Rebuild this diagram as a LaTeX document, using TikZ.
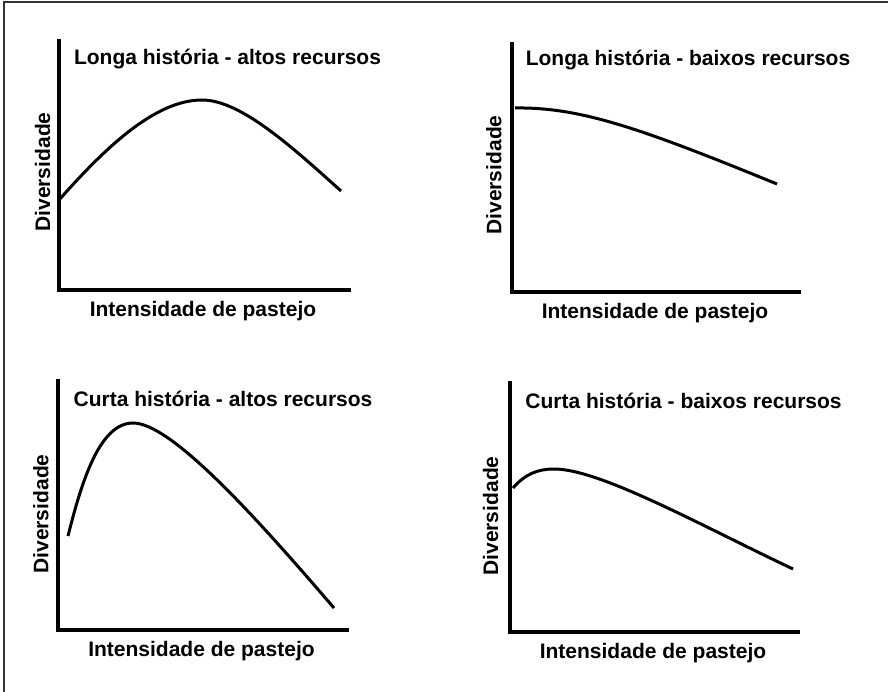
\documentclass[tikz,border=0pt]{standalone}
\usepackage{fontspec}
\setmainfont{Liberation Sans}
\tikzset{
  axis/.style={line width=3.4pt, line join=miter},
  curve/.style={line width=3pt, line cap=butt},
  lbl/.style={font=\fontsize{21}{25}\selectfont\bfseries, inner sep=0pt, anchor=base},
}

\begin{document}
\begin{tikzpicture}[x=1pt,y=-1pt]
\useasboundingbox (0,0) rectangle (888,692);
\draw[line width=1.8pt,black!80] (3.7,692) -- (3.7,2) -- (888,2);
% eixos
\foreach \n/\ox/\oy/\yt/\xe in {1/59/290/39/351, 2/512/292/42/801, 3/58/630/379/349, 4/510/632/381/800} {
  \coordinate (o\n) at (\ox,\oy);
  \coordinate (ytop\n) at (\ox,\yt);
  \coordinate (xend\n) at (\xe,\oy);
  \draw[axis] (ytop\n) -- (o\n) -- (xend\n);
}
% titulos
\foreach \n/\tx/\ty/\txt in {1/227.5/65/Longa história - altos recursos,
                             2/688/65.5/Longa história - baixos recursos,
                             3/223/406/Curta história - altos recursos,
                             4/683.5/408.7/Curta história - baixos recursos} {
  \node[lbl] (title\n) at (\tx,\ty) {\txt};
}
% eixo x
\foreach \n/\tx/\ty in {1/203/316.7, 2/655/318.3, 3/201.5/656.7, 4/653/658.7} {
  \node[lbl] (xlab\n) at (\tx,\ty) {Intensidade de pastejo};
}
% eixo y
\foreach \n/\tx/\ty in {1/50/172, 2/501.3/175, 3/48.3/514, 4/498/516} {
  \node[lbl,rotate=90] (ylab\n) at (\tx,\ty) {Diversidade};
}
% curvas
\draw[curve] (59,200) .. controls (105,148) and (155,100) .. (202,100)
                      .. controls (240,100) and (290,145) .. (341,191);
\draw[curve] (515,108) .. controls (580,107) and (640,128) .. (777,184);
\draw[curve] (68,536) .. controls (82,480) and (100,423) .. (133,423)
                      .. controls (170,423) and (250,510) .. (334,608);
\draw[curve] (513,488) .. controls (525,474) and (538,469) .. (554,469)
                       .. controls (600,469) and (700,525) .. (793,569);
\end{tikzpicture}
\end{document}
